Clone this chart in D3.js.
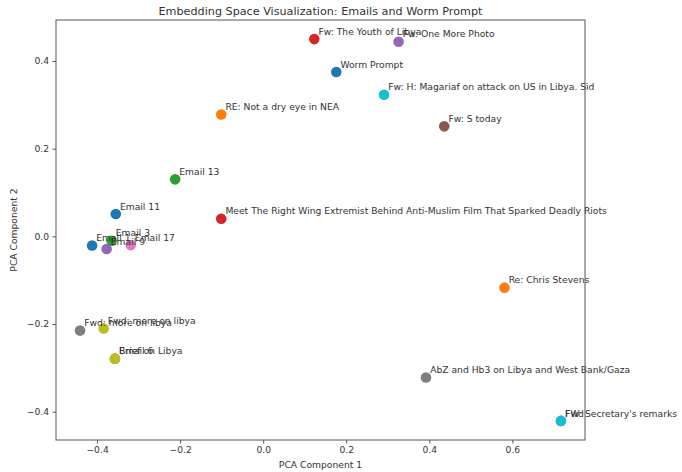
<!DOCTYPE html>
<html>
<head>
<meta charset="utf-8">
<script src="https://cdn.jsdelivr.net/npm/d3@7"></script>
<style>
  html, body { margin: 0; padding: 0; background: #fff; }
  svg { display: block; font-family: "DejaVu Sans", sans-serif; }
</style>
</head>
<body>
<svg id="chart" width="682" height="472"></svg>
<script>
// labels in plotting order (colour follows the tab10 cycle)
const labels = [
  "Email 1", "RE: Not a dry eye in NEA", "Email 3",
  "Meet The Right Wing Extremist Behind Anti-Muslim Film That Sparked Deadly Riots",
  "Email 9", "Email 6", "Email 17", "Fwd: more on libya", "Fwd: more on libya",
  "Fw: H: Magariaf on attack on US in Libya. Sid", "Email 11", "Re: Chris Stevens",
  "Email 13", "Fw: The Youth of Libya", "Fw: One More Photo", "Fw: S today",
  "Fwd", "AbZ and Hb3 on Libya and West Bank/Gaza",
  "Brief on Libya", "FW: Secretary's remarks", "Worm Prompt"
];
const pc1 = [-0.412, -0.101, -0.365, -0.101, -0.377, -0.357, -0.319, -0.441, -0.384,
  0.291, -0.355, 0.581, -0.212, 0.123, 0.326, 0.436, 0.717, 0.392, -0.357, 0.717, 0.176];
const pc2 = [-0.021, 0.278, -0.010, 0.040, -0.029, -0.279, -0.020, -0.215, -0.210,
  0.323, 0.051, -0.117, 0.130, 0.450, 0.444, 0.251, -0.421, -0.322, -0.279, -0.421, 0.375];
const xTicks = [-0.4, -0.2, 0.0, 0.2, 0.4, 0.6];
const yTicks = [-0.4, -0.2, 0.0, 0.2, 0.4];

const points = labels.map((label, i) => ({label, x: pc1[i], y: pc2[i], i}));

const margin = {left: 56, right: 97, top: 20, bottom: 32};
const W = 682, H = 472;

// matplotlib style 5% padding around the data
function padded(values) {
  const [lo, hi] = d3.extent(values);
  const p = (hi - lo) * 0.05;
  return [lo - p, hi + p];
}

const x = d3.scaleLinear().domain(padded(pc1)).range([margin.left, W - margin.right]);
const y = d3.scaleLinear().domain(padded(pc2)).range([H - margin.bottom, margin.top]);
const color = d3.scaleOrdinal(d3.schemeCategory10);

const svg = d3.select('#chart');
const textColor = '#333';
const fs = 9.2;

// axes
const fmt = d3.format('.1f');
const xAxis = svg.append('g')
  .attr('transform', `translate(0,${H - margin.bottom})`)
  .call(d3.axisBottom(x).tickValues(xTicks).tickFormat(d => fmt(d).replace('-', '\u2212')).tickSizeOuter(0).tickSize(3.5).tickPadding(3));
const yAxis = svg.append('g')
  .attr('transform', `translate(${margin.left},0)`)
  .call(d3.axisLeft(y).tickValues(yTicks).tickFormat(d => fmt(d).replace('-', '\u2212')).tickSizeOuter(0).tickSize(3.5).tickPadding(3.5));
[xAxis, yAxis].forEach(a => {
  a.select('.domain').remove();
  a.selectAll('line').attr('stroke', '#555');
  a.selectAll('text').attr('fill', textColor).style('font-size', fs + 'px').style('font-family', '"DejaVu Sans", sans-serif');
});

// points
svg.append('g').selectAll('circle')
  .data(points)
  .join('circle')
  .attr('cx', d => x(d.x))
  .attr('cy', d => y(d.y))
  .attr('r', 5.3)
  .attr('fill', d => color(d.i));

// annotations, offset by 0.01 in data units
svg.append('g').selectAll('text')
  .data(points)
  .join('text')
  .attr('x', d => x(d.x + 0.01))
  .attr('y', d => y(d.y + 0.01))
  .attr('fill', textColor)
  .style('font-size', fs + 'px')
  .text(d => d.label);

// frame
svg.append('rect')
  .attr('x', margin.left)
  .attr('y', margin.top)
  .attr('width', W - margin.left - margin.right)
  .attr('height', H - margin.top - margin.bottom)
  .attr('fill', 'none')
  .attr('stroke', '#555')
  .attr('stroke-width', 1);

// title and axis labels
svg.append('text')
  .attr('x', (margin.left + W - margin.right) / 2)
  .attr('y', 14.5)
  .attr('text-anchor', 'middle')
  .attr('fill', textColor)
  .style('font-size', '11.2px')
  .text('Embedding Space Visualization: Emails and Worm Prompt');

svg.append('text')
  .attr('x', (margin.left + W - margin.right) / 2)
  .attr('y', 468)
  .attr('text-anchor', 'middle')
  .attr('fill', textColor)
  .style('font-size', fs + 'px')
  .text('PCA Component 1');

svg.append('text')
  .attr('transform', `translate(17,${(margin.top + H - margin.bottom) / 2}) rotate(-90)`)
  .attr('text-anchor', 'middle')
  .attr('fill', textColor)
  .style('font-size', fs + 'px')
  .text('PCA Component 2');
</script>
</body>
</html>
